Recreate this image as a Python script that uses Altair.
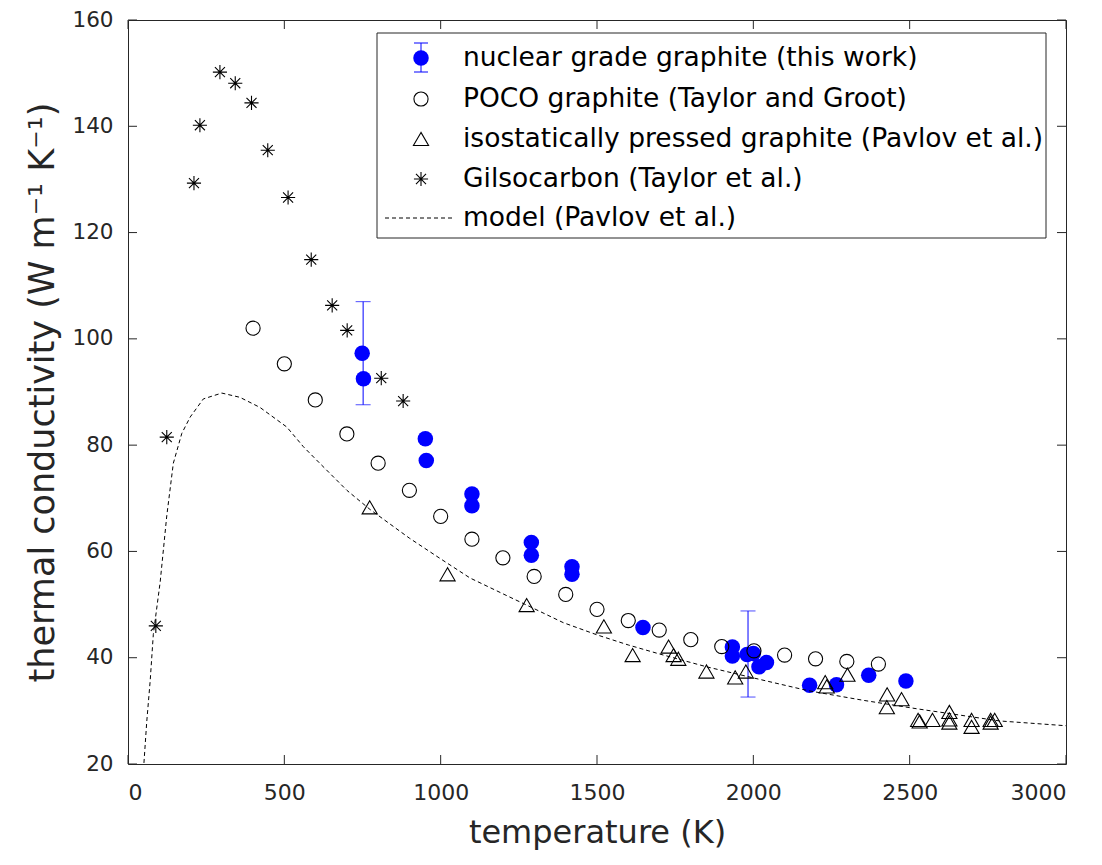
import altair as alt
import pandas as pd

# ---------------- data ----------------
nuc_T = [749, 753, 951, 954, 1100, 1100, 1290, 1290, 1420, 1420, 1647,
         1933, 1933, 1980, 2000, 2018, 2042, 2180, 2266, 2369, 2488]
nuc_k = [97.3, 92.5, 81.2, 77.1, 70.8, 68.6, 61.7, 59.3, 57.1, 55.7, 45.7,
         42.0, 40.3, 40.6, 40.8, 38.3, 39.1, 34.8, 34.9, 36.7, 35.6]

err_T = [752, 1983]
err_lo = [87.6, 32.6]
err_hi = [107.0, 48.8]

poco_T = [400, 500, 599, 700, 800, 900, 1000, 1100, 1199, 1299, 1400, 1500,
          1600, 1699, 1800, 1899, 2002, 2100, 2199, 2299, 2400]
poco_k = [102.0, 95.3, 88.5, 82.1, 76.6, 71.5, 66.6, 62.3, 58.8, 55.3, 51.9, 49.1,
          47.0, 45.2, 43.4, 42.1, 41.3, 40.5, 39.8, 39.3, 38.8]

iso_T = [773, 1022, 1275, 1522, 1614, 1729, 1745, 1760, 1850, 1942, 1976,
         2230, 2235, 2301, 2428, 2427, 2474, 2527, 2532, 2573, 2627, 2627, 2627,
         2698, 2698, 2759, 2759, 2772]
iso_k = [68.3, 55.7, 49.9, 45.9, 40.5, 42.1, 40.5, 39.8, 37.4, 36.3, 37.4,
         35.4, 34.6, 36.8, 33.1, 30.7, 32.2, 28.3, 28.0, 28.3, 29.8, 28.4, 27.8,
         28.3, 27.0, 28.3, 27.8, 28.3]

gil_T = [89, 124, 211, 230, 294, 343, 395, 447, 512, 586, 653, 701, 810, 880]
gil_k = [46.0, 81.5, 129.3, 140.2, 150.2, 148.1, 144.4, 135.5, 126.6, 114.9,
         106.3, 101.6, 92.6, 88.3]

model_T = [51, 60, 71, 81, 103, 124, 145, 172, 199, 241, 300, 358, 422, 508,
           561, 603, 700, 774, 900, 1000, 1094, 1200, 1300, 1392, 1500, 1600,
           1700, 1850, 2000, 2175, 2350, 2522, 2788, 3000]
model_k = [20.2, 28.0, 35.7, 44.4, 54.3, 66.7, 76.6, 82.2, 85.3, 88.7, 89.8,
           89.0, 87.1, 83.4, 79.7, 77.2, 71.5, 67.9, 62.5, 58.6, 55.0, 52.0,
           49.2, 46.6, 44.3, 42.4, 40.7, 38.3, 36.2, 33.8, 32.0, 30.4, 28.1, 27.2]

x_ticks = [0, 500, 1000, 1500, 2000, 2500, 3000]
y_ticks = [20, 40, 60, 80, 100, 120, 140, 160]

legend_labels = ["nuclear grade graphite (this work)",
                 "POCO graphite (Taylor and Groot)",
                 "isostatically pressed graphite (Pavlov et al.)",
                 "Gilsocarbon (Taylor et al.)",
                 "model (Pavlov et al.)"]

# ---------------- style ----------------
W, H = 938, 744
TXT = "#262626"
BLUE = "#0000ff"
FONT = "DejaVu Sans, Liberation Sans, sans-serif"
STAR = "M0,-1L0,1M-1,0L1,0M-0.71,-0.71L0.71,0.71M-0.71,0.71L0.71,-0.71"

xs = alt.Scale(domain=[0, 3000], nice=False, zero=False)
ys = alt.Scale(domain=[20, 160], nice=False, zero=False)

x_axis = alt.Axis(
    values=x_ticks, format="d", title="temperature (K)", grid=False, ticks=False, tickSize=0,
    domain=False, labelFont=FONT, labelFontSize=22, labelColor=TXT, labelPadding=18,
    titleFont=FONT, titleFontSize=32, titleFontWeight="normal", titleColor=TXT,
    titlePadding=14)
y_axis = alt.Axis(
    values=y_ticks, format="d", title="thermal conductivity (W m⁻¹ K⁻¹)", grid=False, ticks=False,
    tickSize=0, domain=False, labelFont=FONT, labelFontSize=21.5, labelColor=TXT,
    labelPadding=15, titleFont=FONT, titleFontSize=35, titleFontWeight="normal",
    titleColor=TXT, titlePadding=11)

nuc = pd.DataFrame({"T": nuc_T, "k": nuc_k})
err = pd.DataFrame({"T": err_T, "lo": err_lo, "hi": err_hi})
poco = pd.DataFrame({"T": poco_T, "k": poco_k})
iso = pd.DataFrame({"T": iso_T, "k": iso_k})
gil = pd.DataFrame({"T": gil_T, "k": gil_k})
model = pd.DataFrame({"T": model_T, "k": model_k})


def X(f="T"):
    return alt.X(f"{f}:Q", scale=xs, axis=x_axis)


def Y(f="k"):
    return alt.Y(f"{f}:Q", scale=ys, axis=y_axis)


# inward ticks on all four sides
xt = pd.DataFrame({"T": x_ticks})
yt = pd.DataFrame({"k": y_ticks})
tick_style = dict(color=TXT, strokeWidth=1)
tb = alt.Chart(xt).mark_rule(**tick_style).encode(x=X(), y=alt.value(H), y2=alt.value(H - 9))
tt = alt.Chart(xt).mark_rule(**tick_style).encode(x=X(), y=alt.value(0), y2=alt.value(9))
tl = alt.Chart(yt).mark_rule(**tick_style).encode(y=Y(), x=alt.value(0), x2=alt.value(9))
tr = alt.Chart(yt).mark_rule(**tick_style).encode(y=Y(), x=alt.value(W), x2=alt.value(W - 9))

# error bars
eb = alt.Chart(err).mark_rule(color=BLUE, strokeWidth=1).encode(x=X(), y=Y("lo"), y2="hi:Q")
ecap_lo = alt.Chart(err).mark_tick(color=BLUE, orient="horizontal", size=15, thickness=1).encode(x=X(), y=Y("lo"))
ecap_hi = alt.Chart(err).mark_tick(color=BLUE, orient="horizontal", size=15, thickness=1).encode(x=X(), y=Y("hi"))

nuc_pts = alt.Chart(nuc).mark_point(shape="circle", filled=True, color=BLUE, opacity=1, size=240).encode(x=X(), y=Y())
poco_pts = alt.Chart(poco).mark_point(shape="circle", filled=False, color="black", strokeWidth=1.1, opacity=1, size=200).encode(x=X(), y=Y())
iso_pts = alt.Chart(iso).mark_point(shape="triangle-up", filled=False, color="black", strokeWidth=1.1, opacity=1, size=230).encode(x=X(), y=Y())
gil_pts = alt.Chart(gil).mark_point(shape=STAR, filled=False, color="black", strokeWidth=1.1, opacity=1, size=200).encode(x=X(), y=Y())
model_line = alt.Chart(model).mark_line(color="black", strokeWidth=1, strokeDash=[4, 3]).encode(x=X(), y=Y())

# ---------------- legend (drawn by hand, pixel coordinates) ----------------
LX0, LX1, LY0, LY1 = 249, 918, 13, 218
MX = 293
rows = [38, 79, 119, 159, 198]
one = pd.DataFrame({"a": [0]})
box = alt.Chart(one).mark_rect(fill="white", stroke=TXT, strokeWidth=1).encode(
    x=alt.value(LX0), x2=alt.value(LX1), y=alt.value(LY0), y2=alt.value(LY1))
leg_txt = [
    alt.Chart(one).mark_text(align="left", baseline="middle", font=FONT, fontSize=26.5,
                             color="black").encode(x=alt.value(335), y=alt.value(r), text=alt.value(lab))
    for lab, r in zip(legend_labels, rows)
]
leg_eb = alt.Chart(one).mark_rule(color=BLUE).encode(
    x=alt.value(MX), y=alt.value(rows[0] - 15), y2=alt.value(rows[0] + 14))
leg_cap1 = alt.Chart(one).mark_rule(color=BLUE).encode(
    x=alt.value(MX - 7), x2=alt.value(MX + 7), y=alt.value(rows[0] - 15))
leg_cap2 = alt.Chart(one).mark_rule(color=BLUE).encode(
    x=alt.value(MX - 7), x2=alt.value(MX + 7), y=alt.value(rows[0] + 14))
leg_nuc = alt.Chart(one).mark_point(shape="circle", filled=True, color=BLUE, opacity=1, size=240).encode(
    x=alt.value(MX), y=alt.value(rows[0]))
leg_poco = alt.Chart(one).mark_point(shape="circle", filled=False, color="black", strokeWidth=1.1, opacity=1, size=200).encode(
    x=alt.value(MX), y=alt.value(rows[1]))
leg_iso = alt.Chart(one).mark_point(shape="triangle-up", filled=False, color="black", strokeWidth=1.1, opacity=1, size=230).encode(
    x=alt.value(MX), y=alt.value(rows[2]))
leg_gil = alt.Chart(one).mark_point(shape=STAR, filled=False, color="black", strokeWidth=1.1, opacity=1, size=200).encode(
    x=alt.value(MX), y=alt.value(rows[3]))
leg_line = alt.Chart(one).mark_rule(color="black", strokeWidth=1, strokeDash=[4, 3]).encode(
    x=alt.value(257), x2=alt.value(327), y=alt.value(rows[4]))

chart = alt.layer(
    tb, tt, tl, tr,
    eb, ecap_lo, ecap_hi, nuc_pts, poco_pts, iso_pts, gil_pts, model_line,
    box, *leg_txt, leg_eb, leg_cap1, leg_cap2, leg_nuc, leg_poco, leg_iso, leg_gil, leg_line,
).properties(
    width=W, height=H,
    autosize=alt.AutoSizeParams(type="none"),
    padding={"left": 120, "top": 12, "right": 28, "bottom": 93},
    background="white",
).configure_view(stroke=TXT, strokeWidth=1)

chart.save("out.html", embed_options={"renderer": "svg", "actions": False})
